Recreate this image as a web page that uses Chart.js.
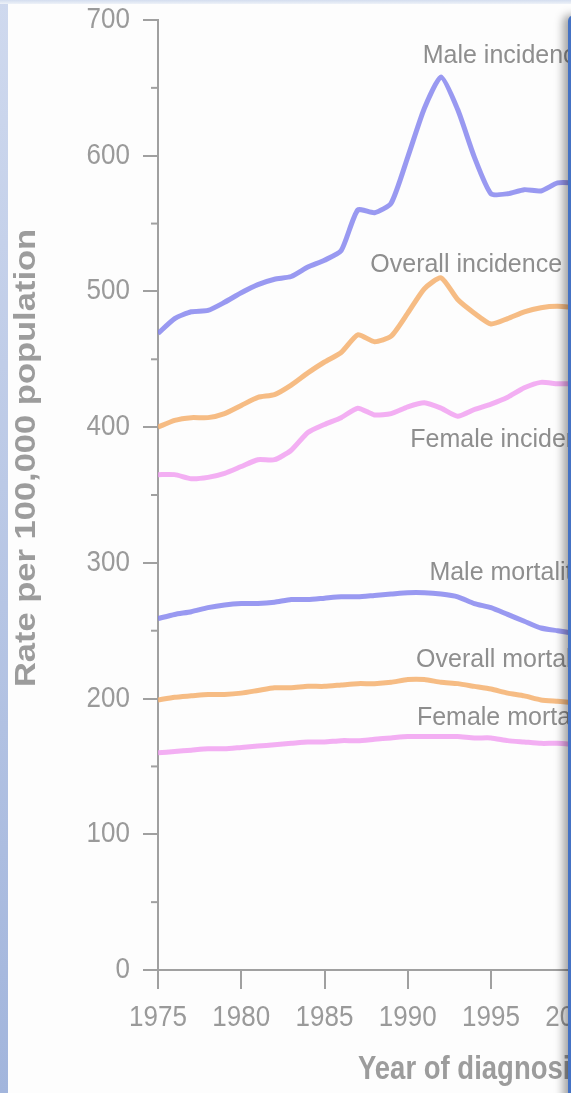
<!DOCTYPE html>
<html><head><meta charset="utf-8">
<script src="https://cdn.jsdelivr.net/npm/chart.js@4.4.1/dist/chart.umd.min.js"></script>
<style>
html,body{margin:0;padding:0;width:571px;height:1093px;overflow:hidden;background:#fdfdfd;}
#wrap{position:absolute;left:0;top:0;width:571px;height:1093px;overflow:hidden;background:#fdfdfd;}
#c{position:absolute;left:0;top:0;}
#leftbar{position:absolute;left:0;top:0;width:8px;height:1093px;background:linear-gradient(#cfd9ee,#a2b5dc);}
#topbar{position:absolute;left:0;top:0;width:571px;height:4px;background:linear-gradient(#d3ddef,#eef2f8);}
#panel{position:absolute;left:568px;top:15px;width:40px;height:1100px;background:#4472c4;border-top-left-radius:6px;box-shadow:-5px 0 9px rgba(0,0,0,0.35);}
</style></head>
<body>
<div id="wrap">
<canvas id="c" width="864" height="1093"></canvas>
<div id="leftbar"></div><div id="topbar"></div><div id="panel"></div>
</div>
<script>
const years = [1975,1976,1977,1978,1979,1980,1981,1982,1983,1984,1985,1986,1987,1988,1989,1990,1991,1992,1993,1994,1995,1996,1997,1998,1999,2000];
const maleIncidence    = [469,480,485,486,492,499,505,509,511,518,523,530,560,558,565,599,635,658,634,599,572,572,575,574,580,580];
const overallIncidence = [400,405,407,407,410,416,422,424,431,440,448,455,468,463,467,484,502,510,494,484,476,480,485,488,489,488];
const femaleIncidence  = [365,365,362,363,366,371,376,376,383,396,402,407,414,409,410,415,418,414,408,413,417,422,429,433,432,432];
const maleMortality    = [259,262,264,267,269,270,270,271,273,273,274,275,275,276,277,278,278,277,275,270,267,262,257,252,250,248];
const overallMortality = [199,201,202,203,203,204,206,208,208,209,209,210,211,211,212,214,214,212,211,209,207,204,202,199,198,197];
const femaleMortality  = [160,161,162,163,163,164,165,166,167,168,168,169,169,170,171,172,172,172,172,171,171,169,168,167,167,166];

const seriesNames  = ['Male incidence','Overall incidence','Female incidence','Male mortality','Overall mortality','Female mortality'];
const seriesColors = ['rgba(128,128,238,0.8)','rgba(245,176,110,0.85)','rgba(240,155,240,0.8)','rgba(128,128,238,0.8)','rgba(245,176,110,0.85)','rgba(240,155,240,0.8)'];
const seriesValues = [maleIncidence,overallIncidence,femaleIncidence,maleMortality,overallMortality,femaleMortality];

// label anchors (year, rate) for the in-chart series names
const labelYears = [1990.9,1987.75,1990.15,1991.3,1990.5,1990.55];
const labelRates = [674,520,391,292.5,229,186];

const xTickValues = [1975,1980,1985,1990,1995,2000,2005,2010,2015];
const yTickValues = [0,100,200,300,400,500,600,700];
const yMinorTicks = [50,150,250,350,450,550,650];

const xTitle = 'Year of diagnosis';
const yTitle = 'Rate per 100,000 population';

const FONT = '"Liberation Sans", Arial, sans-serif';
const AXIS = '#a0a0a0';

function stretchText(ctx, txt, x, y, k, align){
  ctx.save();
  ctx.translate(x, y);
  ctx.scale(1, k);
  ctx.textAlign = align;
  ctx.textBaseline = 'middle';
  ctx.fillText(txt, 0, 0);
  ctx.restore();
}

const extras = {
  id:'extras',
  afterDraw(chart){
    const {ctx, scales:{x,y}, chartArea} = chart;
    ctx.save();
    // minor ticks
    ctx.strokeStyle = AXIS; ctx.lineWidth = 2;
    yMinorTicks.forEach(v=>{
      const py = y.getPixelForValue(v);
      ctx.beginPath(); ctx.moveTo(chartArea.left-7, py); ctx.lineTo(chartArea.left, py); ctx.stroke();
    });
    // tick labels
    ctx.fillStyle = '#9a9a9a';
    ctx.font = '26px ' + FONT;
    xTickValues.forEach(v=>{
      stretchText(ctx, String(v), x.getPixelForValue(v), chartArea.bottom + 48, 1.16, 'center');
    });
    yTickValues.forEach(v=>{
      stretchText(ctx, String(v), chartArea.left - 28, y.getPixelForValue(v), 1.12, 'right');
    });
    // series labels
    ctx.fillStyle = '#8e8e8e';
    ctx.font = '25px ' + FONT;
    seriesNames.forEach((n,i)=>{
      stretchText(ctx, n, x.getPixelForValue(labelYears[i]), y.getPixelForValue(labelRates[i]), 1.06, 'left');
    });
    // axis titles
    ctx.fillStyle = '#9c9c9c';
    ctx.font = 'bold 27.5px ' + FONT;
    stretchText(ctx, xTitle, 358, 1070, 1.2, 'left');
    ctx.font = 'bold 30px ' + FONT;
    ctx.translate(27, 458);
    ctx.rotate(-Math.PI/2);
    ctx.scale(1.15, 1);
    ctx.textAlign = 'center'; ctx.textBaseline = 'middle';
    ctx.fillText(yTitle, 0, 0);
    ctx.restore();
  }
};

new Chart(document.getElementById('c'), {
  type:'line',
  data:{
    datasets: seriesNames.map((n,i)=>({
      label:n,
      data: years.map((yr,j)=>({x:yr, y:seriesValues[i][j]})),
      borderColor: seriesColors[i],
      borderWidth:5,
      pointRadius:0,
      tension:0.2,
      fill:false
    }))
  },
  options:{
    responsive:false,
    animation:false,
    devicePixelRatio:1,
    layout:{padding:{left:0,right:40,top:20,bottom:0}},
    plugins:{legend:{display:false},tooltip:{enabled:false}},
    scales:{
      x:{
        type:'linear', min:1975, max:2015,
        afterBuildTicks: s=>{ s.ticks = xTickValues.map(v=>({value:v})); },
        ticks:{display:false},
        grid:{drawOnChartArea:false, drawTicks:true, tickLength:19, color:AXIS, lineWidth:2},
        border:{display:true, color:AXIS, width:2},
        afterFit: s=>{ s.height = 123; s.paddingLeft = 0; s.paddingRight = 0; }
      },
      y:{
        type:'linear', min:0, max:700,
        afterBuildTicks: s=>{ s.ticks = yTickValues.map(v=>({value:v})); },
        ticks:{display:false},
        grid:{drawOnChartArea:false, drawTicks:true, tickLength:15, color:AXIS, lineWidth:2},
        border:{display:true, color:AXIS, width:2},
        afterFit: s=>{ s.width = 158; s.paddingTop = 0; s.paddingBottom = 0; }
      }
    }
  },
  plugins:[extras]
});
</script>
</body></html>
